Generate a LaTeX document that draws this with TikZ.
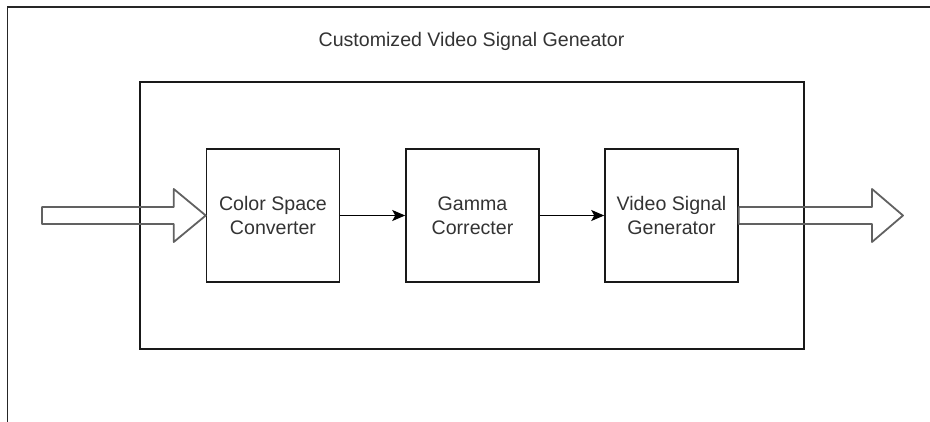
\documentclass[tikz,border=0pt]{standalone}
\usepackage{fontspec}
\setmainfont{Liberation Sans}
\usetikzlibrary{arrows.meta,calc}
\begin{document}
\begin{tikzpicture}[x=1pt,y=-1pt,
  frame/.style={draw=black!85, line width=1.5pt},
  panel/.style={draw=black!90, line width=1.5pt, minimum width=664pt, minimum height=267pt, inner sep=0pt},
  stage/.style={draw=black!90, line width=1.5pt, minimum width=133pt, minimum height=133pt,
    align=center, inner sep=0pt, font=\fontsize{19.6}{24}\selectfont, text=black!80},
  link/.style={draw=black, line width=1.5pt, -{Stealth[length=13pt,width=11pt,inset=3pt]}},
  bigarrow/.style={draw=black!62, line width=1.8pt, line join=round},
  caption/.style={font=\fontsize{19.6}{24}\selectfont, text=black!80}]
\useasboundingbox (0,0) rectangle (930,422);

% outer container (only its top and left edges fall inside the page)
\draw[frame] (7.5,422) -- (7.5,7) -- (930,7);

% inner panel and its title
\node[panel] (core) at (472,215.5) {};
\node[caption] (ttl) at (471.5,41) {Customized Video Signal Geneator};

% processing stages
\node[stage] (csc) at (273,215.5) {Color Space\\Converter};
\node[stage] (gc)  at (472.5,215.5) {Gamma\\Correcter};
\node[stage] (vsg) at (671.5,215.5) {Video Signal\\Generator};

% signal flow between stages
\draw[link] (csc) -- (gc);
\draw[link] (gc) -- (vsg);

% wide input and output arrows
\coordinate (src) at (42,215.5);
\coordinate (snk) at (903,215.5);
\draw[bigarrow]
  ($(src)+(0,-8.5)$) -- ($(csc.west)+(-32,-8.5)$) -- ($(csc.west)+(-32,-26.5)$)
  -- (csc.west) -- ($(csc.west)+(-32,26.5)$) -- ($(csc.west)+(-32,8.5)$)
  -- ($(src)+(0,8.5)$) -- cycle;
\draw[bigarrow]
  ($(vsg.east)+(0,-8.5)$) -- ($(snk)+(-31,-8.5)$) -- ($(snk)+(-31,-26.5)$)
  -- (snk) -- ($(snk)+(-31,26.5)$) -- ($(snk)+(-31,8.5)$)
  -- ($(vsg.east)+(0,8.5)$) -- cycle;
\end{tikzpicture}
\end{document}
